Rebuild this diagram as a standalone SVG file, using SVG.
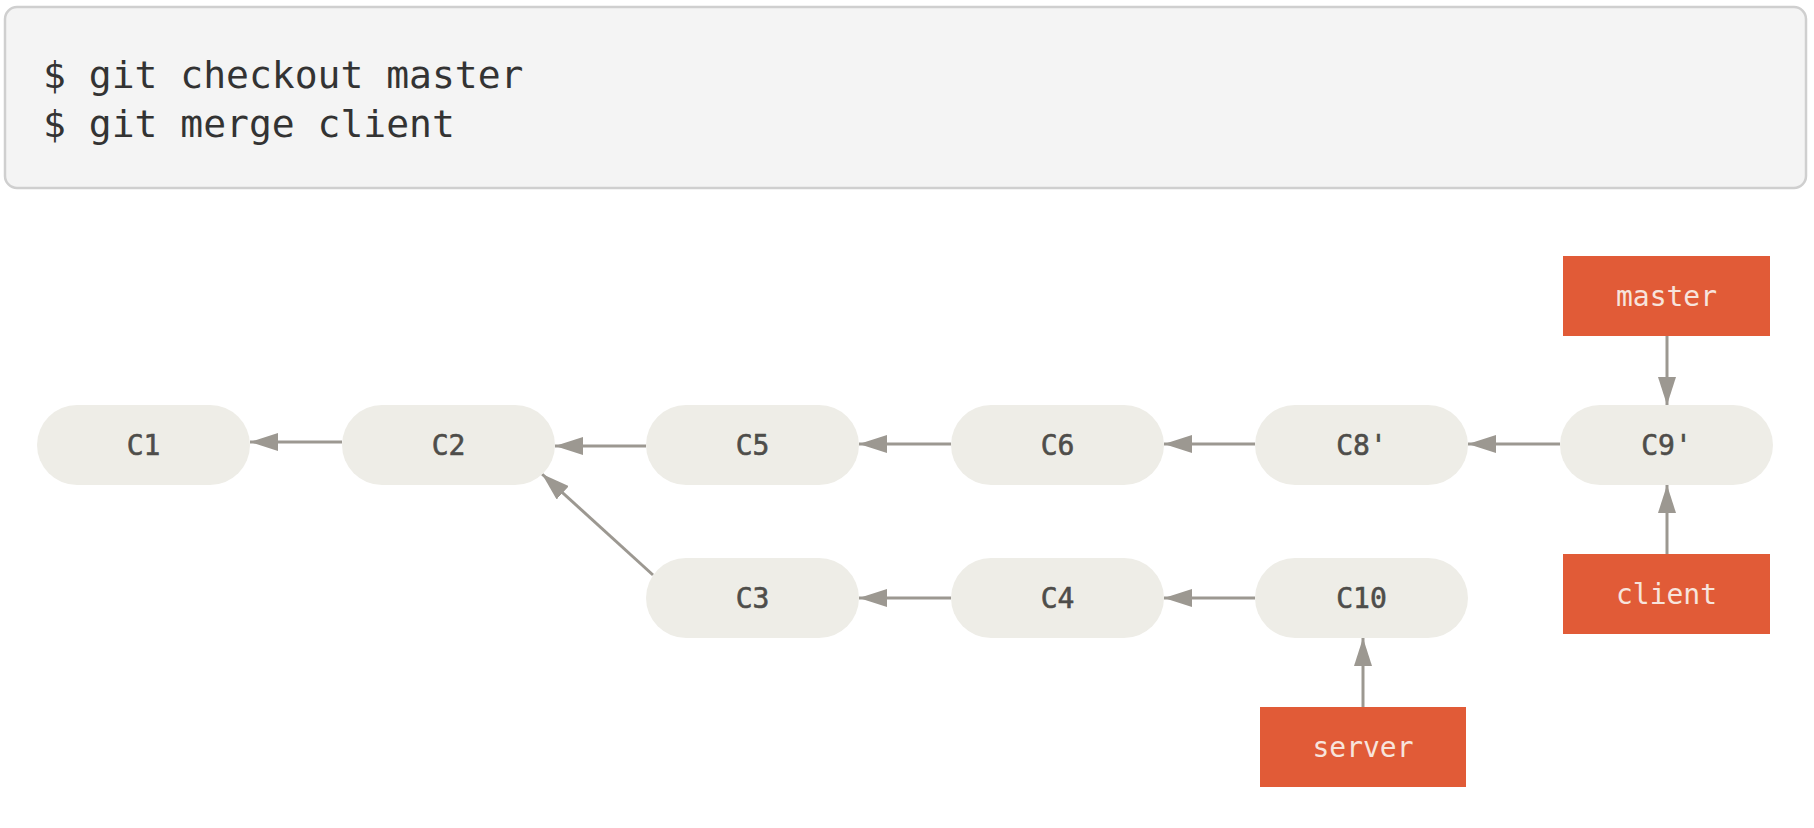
<svg xmlns="http://www.w3.org/2000/svg" width="1814" height="828" viewBox="0 0 1814 828">
<style>
.code{font-family:"DejaVu Sans Mono","Liberation Mono",monospace;font-size:38px;fill:#333333}
.node rect{fill:#eeede7}
.node text{font-family:"DejaVu Sans Mono","Liberation Mono",monospace;font-size:28px;fill:#4e4d4a;stroke:#4e4d4a;stroke-width:0.6;text-anchor:middle}
.ref rect{fill:#e15b37}
.ref text{font-family:"DejaVu Sans Mono","Liberation Mono",monospace;font-size:28px;fill:#f7e4dc;text-anchor:middle}
.edge{stroke:#9c9891;stroke-width:3;fill:none;marker-end:url(#ah)}
</style>
<defs>
<marker id="ah" markerWidth="28" markerHeight="18" refX="28" refY="9" orient="auto" markerUnits="userSpaceOnUse">
<path d="M0,0 L28,9 L0,18 Z" fill="#9c9891"/>
</marker>
</defs>
<rect width="1814" height="828" fill="#ffffff"/>
<g id="command">
<rect x="5" y="7" width="1801" height="181" rx="12" fill="#f4f4f4" stroke="#cfcfcf" stroke-width="2.5"/>
<text class="code" x="43" y="88">$ git checkout master</text>
<text class="code" x="43" y="137">$ git merge client</text>
</g>
<g id="connectors">
<line class="edge" x1="342" y1="442" x2="250" y2="442"/>
<line class="edge" x1="646" y1="446" x2="555" y2="446"/>
<line class="edge" x1="951" y1="444" x2="859" y2="444"/>
<line class="edge" x1="1255" y1="444" x2="1164" y2="444"/>
<line class="edge" x1="1560" y1="444" x2="1468" y2="444"/>
<line class="edge" x1="653" y1="575" x2="542" y2="474"/>
<line class="edge" x1="951" y1="598" x2="859" y2="598"/>
<line class="edge" x1="1255" y1="598" x2="1164" y2="598"/>
<line class="edge" x1="1667" y1="336" x2="1667" y2="405"/>
<line class="edge" x1="1667" y1="554" x2="1667" y2="485"/>
<line class="edge" x1="1363" y1="707" x2="1363" y2="638"/>
</g>
<g id="C1" class="node"><rect x="37" y="405" width="213" height="80" rx="40"/><text x="143.5" y="455">C1</text></g>
<g id="C2" class="node"><rect x="342" y="405" width="213" height="80" rx="40"/><text x="448.5" y="455">C2</text></g>
<g id="C5" class="node"><rect x="646" y="405" width="213" height="80" rx="40"/><text x="752.5" y="455">C5</text></g>
<g id="C6" class="node"><rect x="951" y="405" width="213" height="80" rx="40"/><text x="1057.5" y="455">C6</text></g>
<g id="C8p" class="node"><rect x="1255" y="405" width="213" height="80" rx="40"/><text x="1361.5" y="455">C8'</text></g>
<g id="C9p" class="node"><rect x="1560" y="405" width="213" height="80" rx="40"/><text x="1666.5" y="455">C9'</text></g>
<g id="C3" class="node"><rect x="646" y="558" width="213" height="80" rx="40"/><text x="752.5" y="608">C3</text></g>
<g id="C4" class="node"><rect x="951" y="558" width="213" height="80" rx="40"/><text x="1057.5" y="608">C4</text></g>
<g id="C10" class="node"><rect x="1255" y="558" width="213" height="80" rx="40"/><text x="1361.5" y="608">C10</text></g>
<g id="master" class="ref"><rect x="1563" y="256" width="207" height="80"/><text x="1666.5" y="306">master</text></g>
<g id="client" class="ref"><rect x="1563" y="554" width="207" height="80"/><text x="1666.5" y="604">client</text></g>
<g id="server" class="ref"><rect x="1260" y="707" width="206" height="80"/><text x="1363" y="757">server</text></g>
</svg>
